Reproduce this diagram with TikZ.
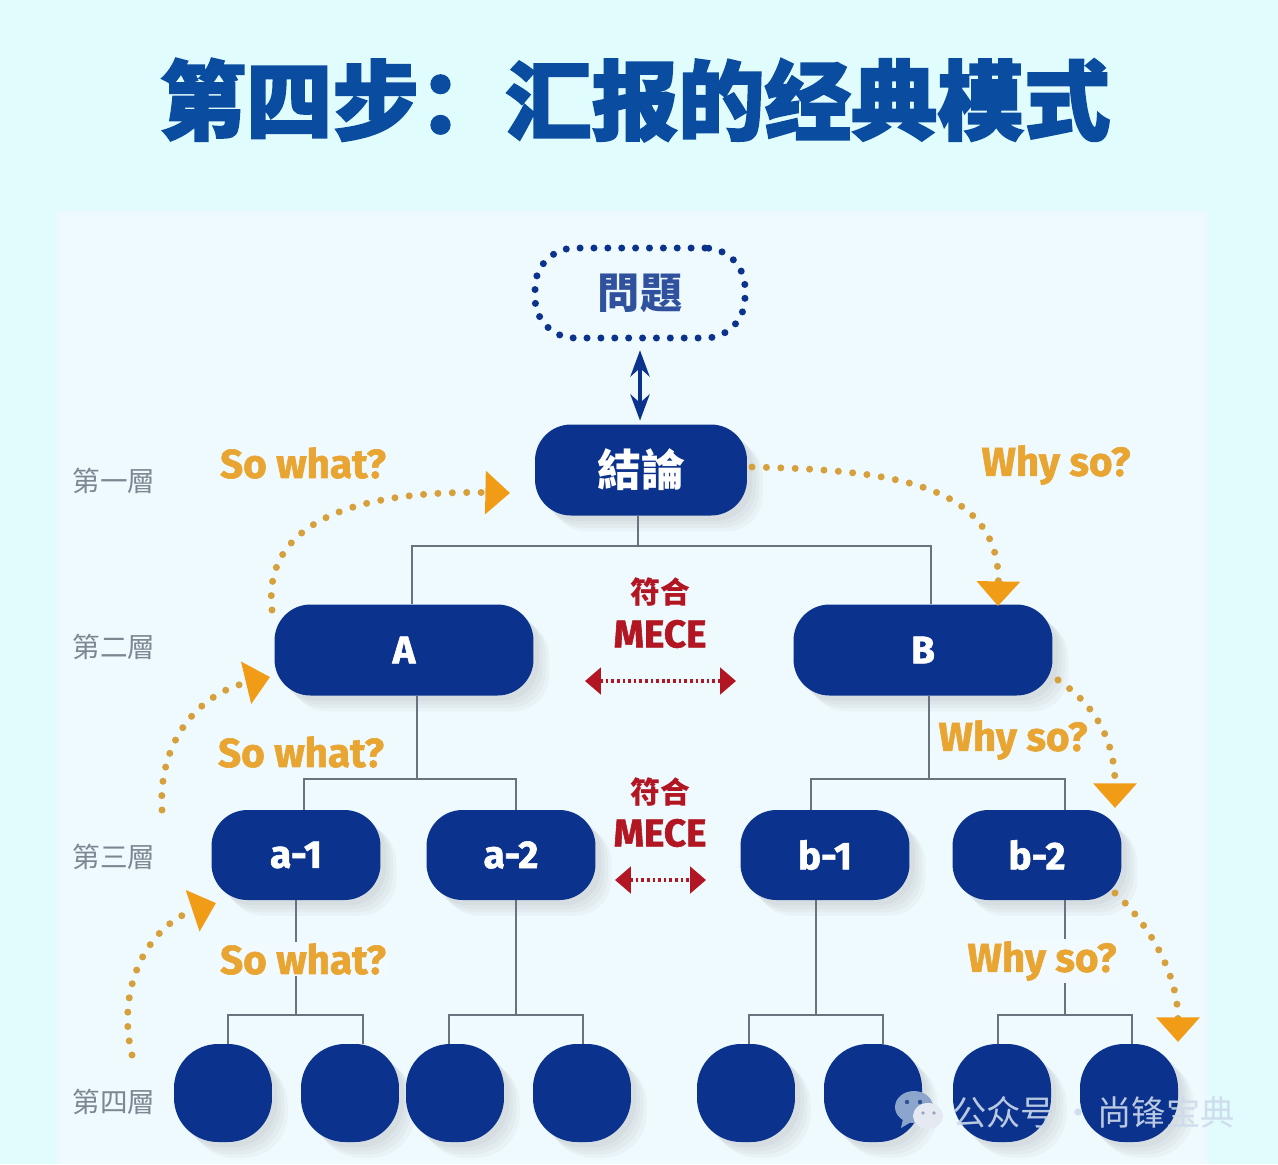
\documentclass[tikz,border=0pt]{standalone}
\usepackage{fontspec}
\setsansfont{Fira Sans}
\newfontfamily\labelfont[FakeBold=1.5]{Fira Sans}
\newfontfamily\cjktc{Noto Sans CJK TC}
\newfontfamily\cjksc{Noto Sans CJK SC}
\newfontfamily\titlefont[FakeBold=2.2]{Noto Sans CJK SC}
\usetikzlibrary{arrows.meta,shadows}
\definecolor{outerbg}{RGB}{225,252,252}
\definecolor{panelbg}{RGB}{240,250,255}
\definecolor{navy}{RGB}{11,50,140}
\definecolor{titleblue}{RGB}{10,76,160}
\definecolor{gold}{RGB}{233,165,50}
\definecolor{goldtip}{RGB}{241,156,22}
\definecolor{dotgold}{RGB}{214,160,60}
\definecolor{mecered}{RGB}{178,22,34}
\definecolor{treegray}{RGB}{105,115,125}
\definecolor{layergray}{RGB}{125,135,145}
\begin{document}
\begin{tikzpicture}[x=0.02cm, y=-0.02cm, >=Stealth,
                softshadow/.style={drop shadow={opacity=0.06, shadow xshift=3pt, shadow yshift=-3pt},
                    drop shadow={opacity=0.06, shadow xshift=5pt, shadow yshift=-5pt},
                    drop shadow={opacity=0.06, shadow xshift=7pt, shadow yshift=-7pt},
                    drop shadow={opacity=0.05, shadow xshift=9pt, shadow yshift=-9pt}},
                wideblock/.style={rectangle, fill=navy, softshadow, minimum width=5.18cm, minimum height=1.82cm, rounded corners=0.72cm, text=white, font=\labelfont\bfseries\fontsize{22}{24}\selectfont},
                midblock/.style={wideblock, minimum width=3.38cm, minimum height=1.8cm},
                leafblock/.style={rectangle, fill=navy, softshadow, minimum width=1.96cm, minimum height=1.96cm, rounded corners=0.88cm},
                treeline/.style={draw=treegray, line width=0.8pt},
                sowhat/.style={text=gold, font=\labelfont\bfseries\fontsize{23}{25}\selectfont, inner sep=1pt},
                layer/.style={text=layergray, font=\cjktc\fontsize{15.7}{18}\selectfont},
                mecetext/.style={text=mecered, font=\labelfont\bfseries\fontsize{22}{24}\selectfont},
                fuhe/.style={text=mecered, font=\cjktc\bfseries\fontsize{17}{19}\selectfont},
                dotarrow/.style={draw=dotgold, line width=4pt, line cap=round, dash pattern=on 0pt off 8.2pt,
                    -{Triangle[length=14pt, width=24pt, color=goldtip]}},
                reddots/.style={draw=mecered, line width=1.8pt, dash pattern=on 1.5pt off 1.7pt,
                    {Triangle[length=9pt, width=15pt, color=mecered]}-{Triangle[length=9pt, width=15pt, color=mecered]}}
            ]

            % Background
            \fill[outerbg] (0,0) rectangle (1278,1164);
            \foreach \d in {0,3,6,9,12}
                \fill[panelbg, opacity=0.5] (55+\d,210+\d) rectangle (1210-\d,1164);
            \useasboundingbox (0,0) rectangle (1278,1164);

            % Title
            \node[text=titleblue, font=\titlefont\bfseries\fontsize{49.2}{52}\selectfont] (title) at (635,100) {第四步：汇报的经典模式};

            % Problem and conclusion
            \node[rectangle, draw=navy, line width=4pt, line cap=round, dash pattern=on 0pt off 7.9pt, rounded corners=0.8cm, minimum width=4.2cm, minimum height=1.8cm, text=navy!85!white, font=\cjktc\bfseries\fontsize{24}{26}\selectfont] (question) at (640,293) {問題};
            \node[wideblock, minimum width=4.24cm, font=\cjktc\bfseries\fontsize{25}{27}\selectfont] (concl) at (641,470) {結論};
            \draw[{Stealth[length=15pt, width=11pt]}-{Stealth[length=15pt, width=11pt]}, draw=navy, line width=2pt, shorten >=2pt, shorten <=5pt] (question.south -| 640,0) -- (concl.north -| 640,0);

            % Second layer
            \node[wideblock] (A) at (404,650) {\raisebox{-2pt}{A}};
            \node[wideblock] (B) at (923,650) {\raisebox{-2pt}{B}};

            % Third layer
            \node[midblock] (a1) at (296,855) {a-1};
            \node[midblock] (a2) at (511,855) {a-2};
            \node[midblock] (b1) at (825,855) {b-1};
            \node[midblock] (b2) at (1037,855) {b-2};

            % Fourth layer
            \node[leafblock] (leafa) at (223,1093) {};
            \node[leafblock] (leafb) at (350,1093) {};
            \node[leafblock] (leafc) at (455,1093) {};
            \node[leafblock] (leafd) at (582,1093) {};
            \node[leafblock] (leafe) at (746,1093) {};
            \node[leafblock] (leaff) at (873,1093) {};
            \node[leafblock] (leafg) at (1002,1093) {};
            \node[leafblock] (leafh) at (1129,1093) {};

            % Tree lines
            \coordinate (busone) at (638,546);
            \draw[treeline] (concl.south -| busone) -- (busone);
            \draw[treeline] (A.north -| 412,0) |- (busone) -| (B.north -| 931,0);

            \coordinate (busa) at (417,779);
            \draw[treeline] (A.south -| busa) -- (busa);
            \draw[treeline] (a1.north -| 304,0) |- (busa) -| (a2.north -| 516,0);
            \coordinate (busb) at (929,779);
            \draw[treeline] (B.south -| busb) -- (busb);
            \draw[treeline] (b1.north -| 811,0) |- (busb) -| (b2.north -| 1065,0);

            \coordinate (busaa) at (296,1015);
            \draw[treeline] (a1.south -| busaa) -- (busaa);
            \draw[treeline] (leafa.north -| 228,0) |- (busaa) -| (leafb.north -| 363,0);
            \coordinate (busab) at (516,1015);
            \draw[treeline] (a2.south -| busab) -- (busab);
            \draw[treeline] (leafc.north -| 449,0) |- (busab) -| (leafd.north -| 583,0);
            \coordinate (busba) at (816,1015);
            \draw[treeline] (b1.south -| busba) -- (busba);
            \draw[treeline] (leafe.north -| 749,0) |- (busba) -| (leaff.north -| 883,0);
            \coordinate (busbb) at (1065,1015);
            \draw[treeline] (b2.south -| busbb) -- (busbb);
            \draw[treeline] (leafg.north -| 998,0) |- (busbb) -| (leafh.north -| 1132,0);

            % Layer names
            \node[layer] (layerone) at (114,481) {第一層};
            \node[layer] (layertwo) at (114,647) {第二層};
            \node[layer] (layerthree) at (114,857) {第三層};
            \node[layer] (layerfour) at (114,1102) {第四層};

            % So what labels
            \node[sowhat] (sowhatone) at (303,463) {So what?};
            \node[sowhat] (sowhattwo) at (301,752) {So what?};
            \node[sowhat, fill=panelbg] (sowhatthree) at (303,959) {So what?};

            % Why so labels
            \node[sowhat] (whysoone) at (1056,465) {Why so?};
            \node[sowhat] (whysotwo) at (1013,740) {Why so?};
            \node[sowhat, fill=panelbg] (whysothree) at (1042,961) {Why so?};

            % Upward arrows
            \coordinate (upone) at (272,610);
            \coordinate (uponeend) at (510,493);
            \draw[dotarrow] (upone) .. controls (262,525) and (350,490) .. (uponeend);
            \coordinate (uptwo) at (162,810);
            \coordinate (uptwoend) at (270,677);
            \draw[dotarrow] (uptwo) .. controls (158,745) and (195,695) .. (uptwoend);
            \coordinate (upthree) at (132,1055);
            \coordinate (upthreeend) at (216,903);
            \draw[dotarrow] (upthree) .. controls (115,985) and (150,925) .. (upthreeend);

            % Downward arrows
            \coordinate (downone) at (752,467);
            \coordinate (downoneend) at (998,606);
            \draw[dotarrow] (downone) .. controls (880,470) and (1000,480) .. (downoneend);
            \coordinate (downtwo) at (1058,680);
            \coordinate (downtwoend) at (1115,808);
            \draw[dotarrow] (downtwo) .. controls (1095,705) and (1115,740) .. (downtwoend);
            \coordinate (downthree) at (1115,893);
            \coordinate (downthreeend) at (1178,1042);
            \draw[dotarrow] (downthree) .. controls (1150,925) and (1178,975) .. (downthreeend);

            % MECE
            \node[fuhe] (fuheone) at (660,592) {符合};
            \node[mecetext] (meceone) at (660,634) {MECE};
            \coordinate (redonel) at (585,681);
            \coordinate (redoner) at (736,681);
            \draw[reddots] (redonel) -- (redoner);
            \node[fuhe] (fuhetwo) at (660,792) {符合};
            \node[mecetext] (mecetwo) at (660,833) {MECE};
            \coordinate (redtwol) at (615,880);
            \coordinate (redtwor) at (706,880);
            \draw[reddots] (redtwol) -- (redtwor);

            % Watermark
            \fill[fill={rgb,255:red,140;green,165;blue,205}] (914,1107) ellipse (19 and 16);
            \fill[fill={rgb,255:red,140;green,165;blue,205}] (903,1119) -- (901,1128) -- (911,1122) -- cycle;
            \fill[fill={rgb,255:red,50;green,80;blue,145}] (907,1102) circle (2.2) (920,1102) circle (2.2);
            \fill[fill={rgb,255:red,228;green,233;blue,242}] (928,1116) ellipse (15 and 13);
            \fill[fill={rgb,255:red,150;green,165;blue,195}] (923,1113) circle (1.8) (934,1113) circle (1.8);
            \node[text={rgb,255:red,205;green,218;blue,235}, opacity=0.9, font=\cjksc\fontsize{19.5}{21}\selectfont, anchor=west, inner sep=0pt] (mark) at (952,1112) {公众号\hspace{-1pt} · \hspace{-3pt}尚锋宝典};

        \end{tikzpicture}
\end{document}
